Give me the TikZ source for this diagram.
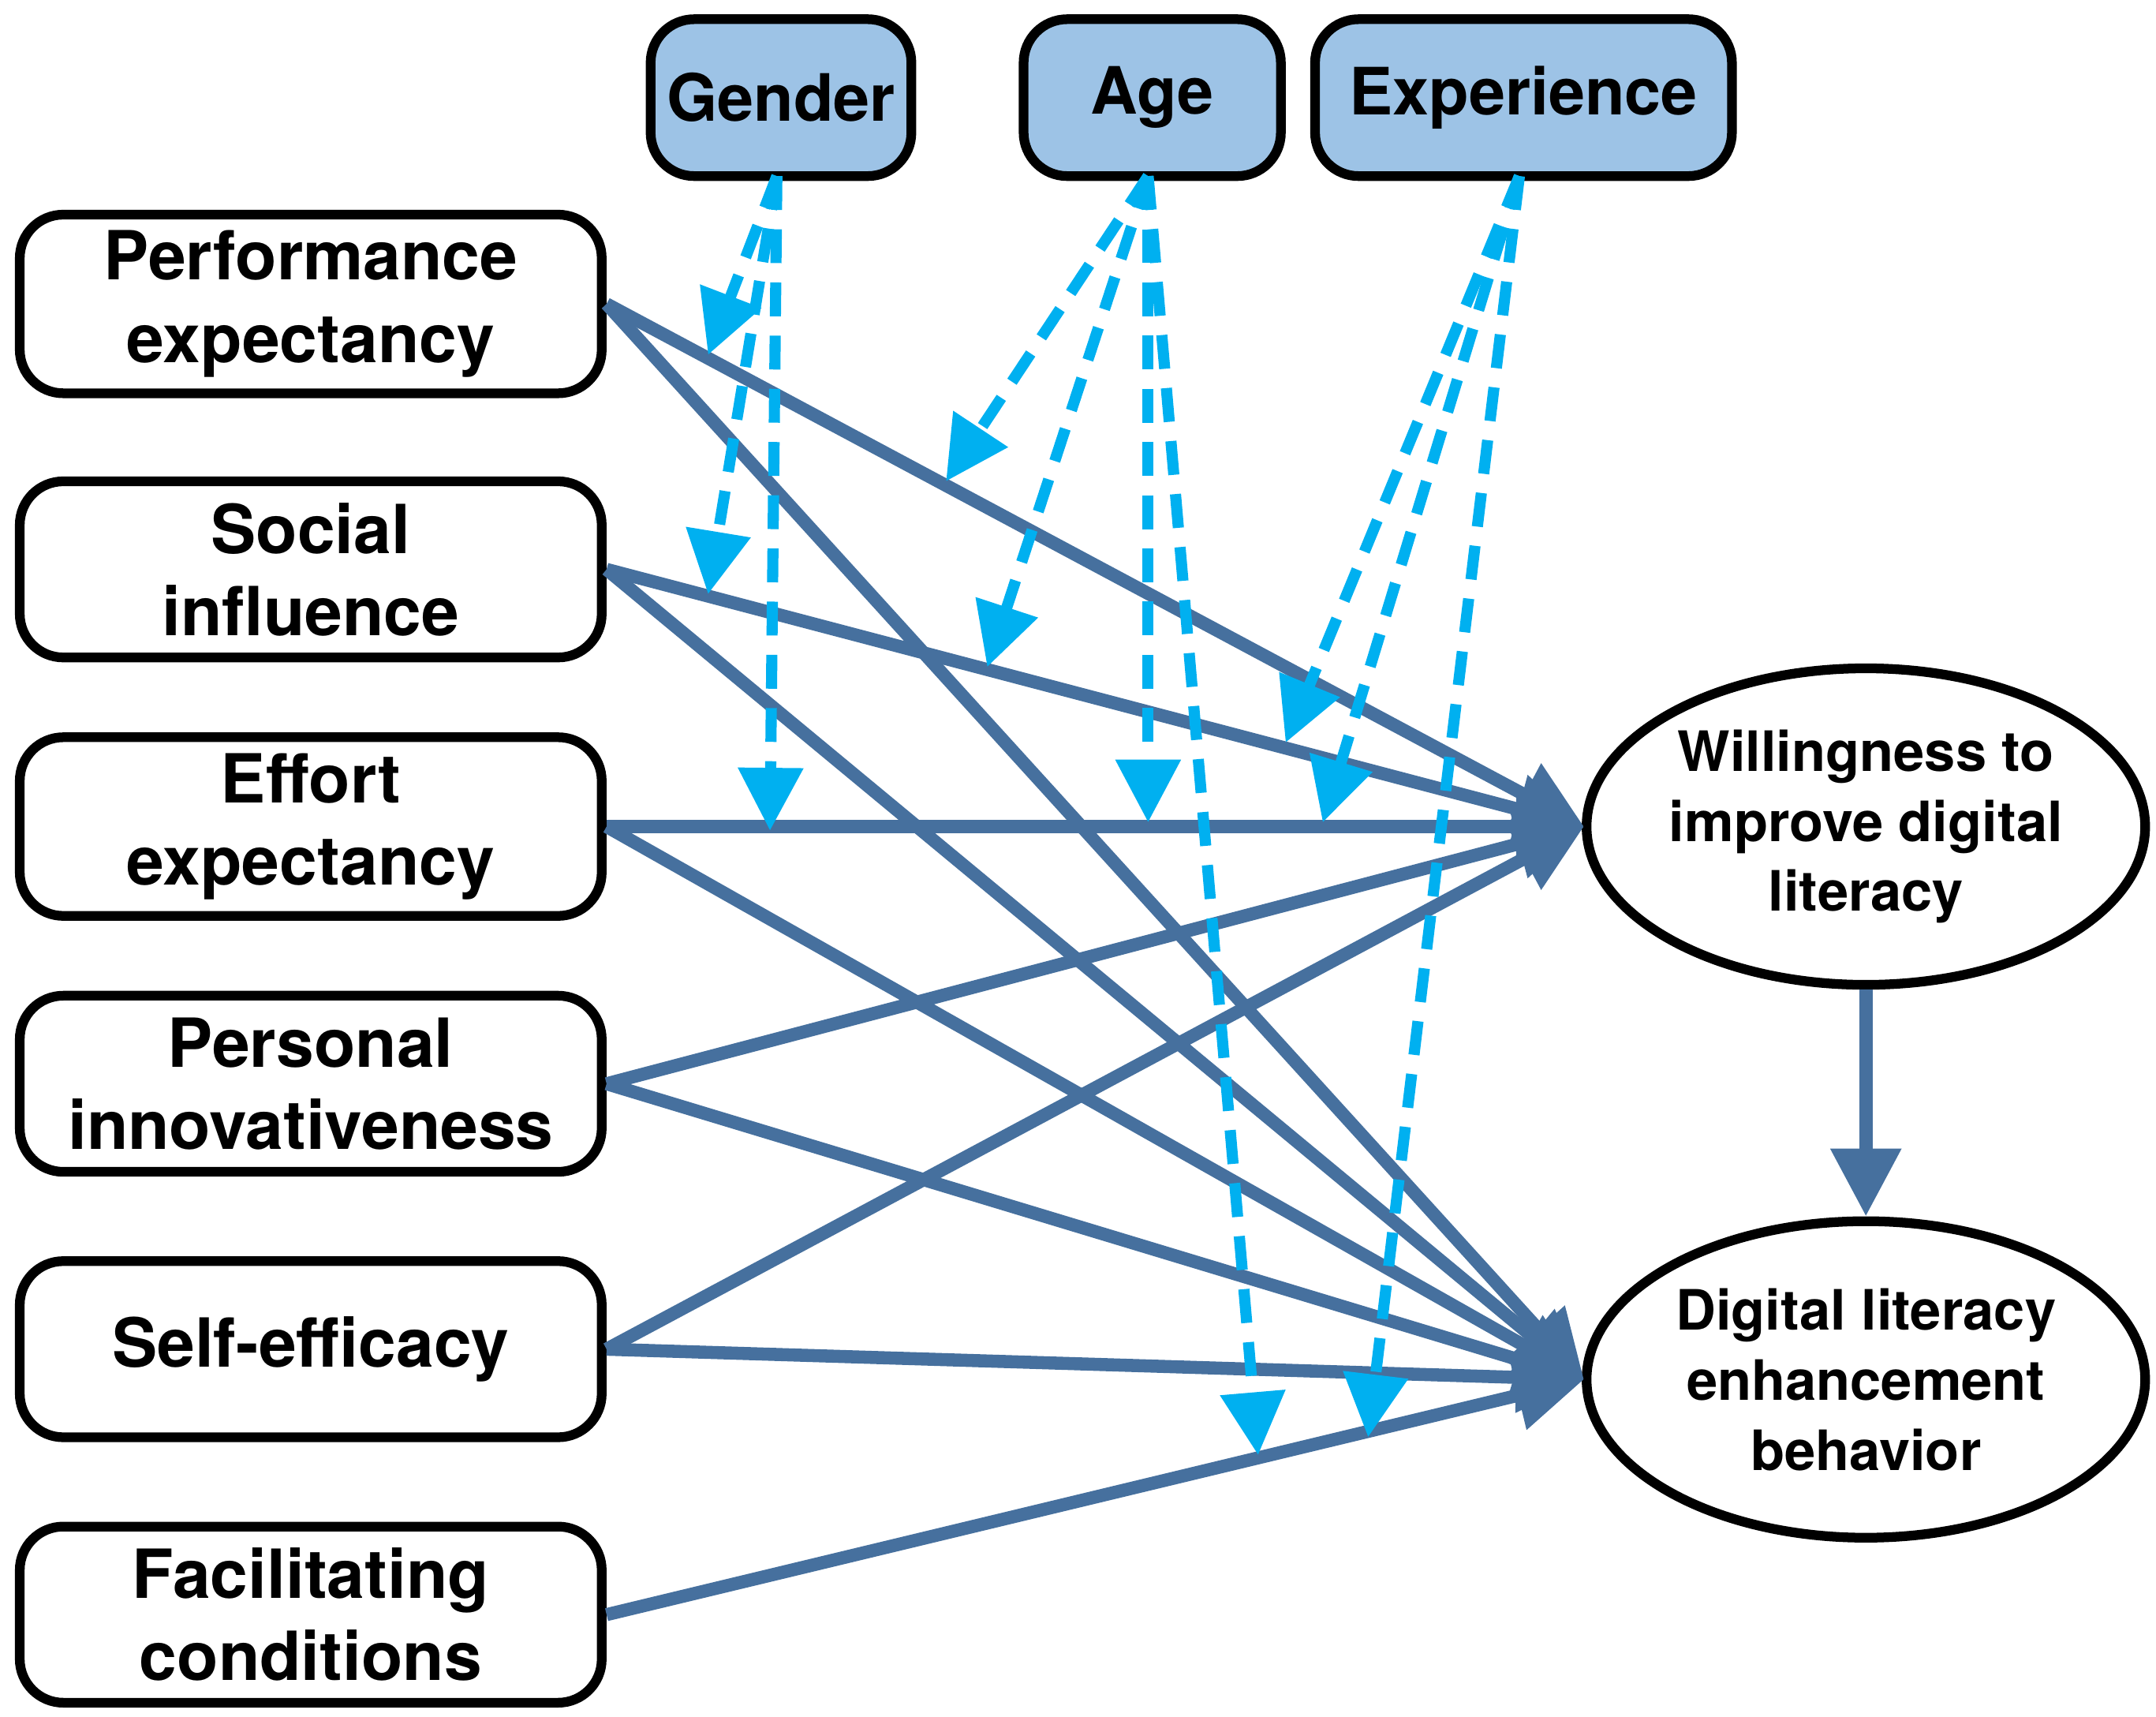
\documentclass[tikz,border=0pt]{standalone}
\usepackage{fontspec}
\setmainfont{TeX Gyre Heros}
\usetikzlibrary{arrows.meta,shapes.geometric}
\definecolor{sb}{RGB}{70,112,158}
\definecolor{cy}{RGB}{0,176,240}
\definecolor{mb}{RGB}{157,195,230}
\tikzset{
 lbox/.style={draw,line width=2pt,rounded corners=9pt,minimum width=4.23cm,minimum height=1.28cm,align=center,font=\fontsize{14}{17}\selectfont\bfseries},
 mbox/.style={draw,line width=2pt,rounded corners=9pt,fill=mb,minimum height=1.14cm,font=\fontsize{13.5}{17}\selectfont\bfseries},
 ell/.style={draw,ellipse,line width=2pt,minimum width=4.06cm,minimum height=2.3cm,align=center,font=\fontsize{11.5}{14.5}\selectfont\bfseries,inner sep=-2pt},
 sol/.style={sb,line width=2.7pt,-{Triangle[length=14pt,width=14pt]}},
 dsh/.style={cy,line width=2.3pt,dash pattern=on 7pt off 4pt,-{Triangle[length=13pt,width=13pt]}},
}
\begin{document}
\begin{tikzpicture}[x=0.01cm,y=-0.01cm]
\useasboundingbox (0,0) rectangle (1568,1248);
\node[mbox,minimum width=1.87cm] (g) at (568,71) {Gender};
\node[mbox,minimum width=1.87cm] (a) at (838,71) {Age};
\node[mbox,minimum width=3.03cm] (e) at (1108,71) {Experience};
\node[lbox] (pe) at (226,221) {Performance\\expectancy};
\node[lbox] (si) at (226,414) {Social\\influence};
\node[lbox] (ee) at (226,601) {Effort\\expectancy};
\node[lbox] (pi) at (226,788) {Personal\\innovativeness};
\node[lbox] (se) at (226,981) {Self-efficacy};
\node[lbox] (fc) at (226,1174) {Facilitating\\conditions};
\node[ell] (w) at (1357,601) {Willingness to\\improve digital\\literacy};
\node[ell] (d) at (1357,1003) {Digital literacy\\enhancement\\behavior};
\coordinate (wl) at (1152,601);
\coordinate (dl) at (1152,1003);
\foreach \n in {pe,si,ee,pi,se}{
 \draw[sol] (\n.east) -- (wl);
 \draw[sol] (\n.east) -- (dl);}
\draw[sol] (fc.east) -- (dl);
\draw[sol] (w.south) -- (d.north);
\coordinate (gs) at (565,128);
\coordinate (as) at (835,128);
\coordinate (es) at (1105,128);
\coordinate (g1) at (515,258); \coordinate (g2) at (515,432); \coordinate (g3) at (560,604);
\coordinate (a1) at (688,350); \coordinate (a2) at (718,485); \coordinate (a3) at (835,598); \coordinate (a4) at (915,1058);
\coordinate (e1) at (935,540); \coordinate (e2) at (962,598); \coordinate (e3) at (995,1045);
\foreach \t in {g1,g2,g3} \draw[dsh] (gs) -- (\t);
\foreach \t in {a1,a2,a3,a4} \draw[dsh] (as) -- (\t);
\foreach \t in {e1,e2,e3} \draw[dsh] (es) -- (\t);
\end{tikzpicture}
\end{document}
